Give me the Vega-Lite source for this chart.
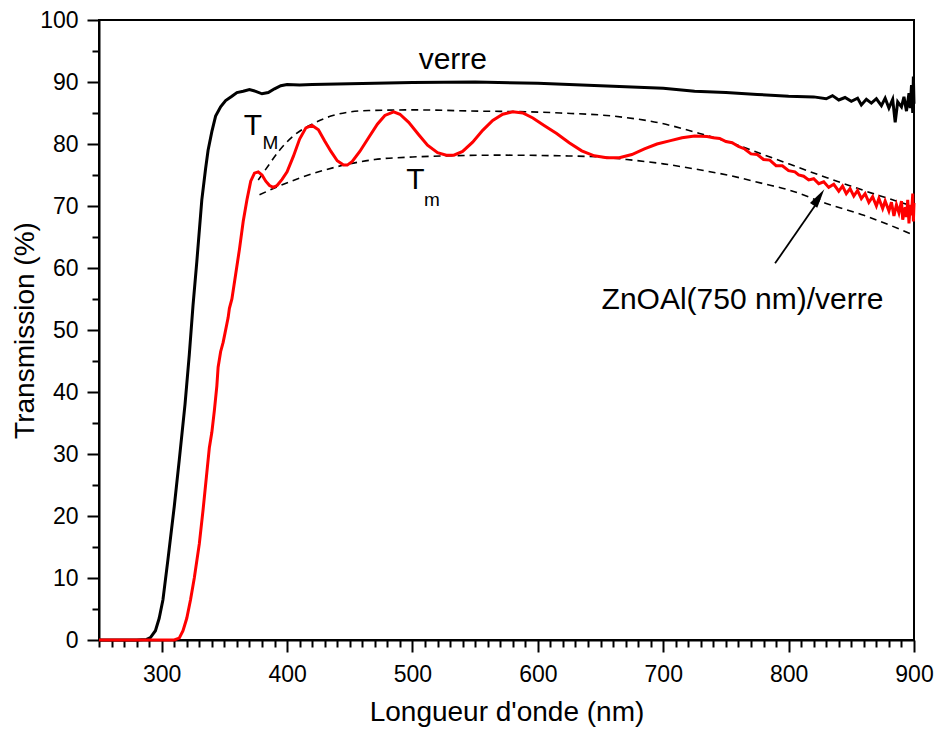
{
  "$schema": "https://vega.github.io/schema/vega-lite/v6.json",
  "width": 815,
  "height": 620,
  "autosize": {"type": "none"},
  "padding": {"left": 99, "top": 20, "right": 24, "bottom": 95},
  "background": "white",
  "config": {
    "view": {"stroke": "black", "strokeWidth": 2},
    "font": "Liberation Sans",
    "axis": {"grid": false, "domainColor": "black", "domainWidth": 2, "tickColor": "black", "tickWidth": 2, "labelColor": "black", "titleColor": "black", "labelFont": "Liberation Sans", "titleFont": "Liberation Sans", "labelFontSize": 23, "titleFontSize": 28, "titleFontWeight": "normal"}
  },
  "resolve": {"axis": {"x": "independent", "y": "independent"}},
  "datasets": {
    "spectra": [
      {"wl": 250, "T": 0, "s": "verre"}, {"wl": 280, "T": 0, "s": "verre"}, {"wl": 288, "T": 0.1, "s": "verre"}, {"wl": 291, "T": 0.4, "s": "verre"}, {"wl": 295, "T": 1.5, "s": "verre"}, {"wl": 298, "T": 3.5, "s": "verre"}, {"wl": 301, "T": 6.5, "s": "verre"}, {"wl": 305, "T": 13, "s": "verre"}, {"wl": 310, "T": 21.5, "s": "verre"}, {"wl": 314, "T": 29, "s": "verre"}, {"wl": 318.6, "T": 38, "s": "verre"}, {"wl": 322, "T": 46, "s": "verre"}, {"wl": 325, "T": 54, "s": "verre"}, {"wl": 328, "T": 61, "s": "verre"}, {"wl": 332, "T": 71, "s": "verre"}, {"wl": 335, "T": 76, "s": "verre"}, {"wl": 337, "T": 79, "s": "verre"}, {"wl": 340, "T": 82, "s": "verre"}, {"wl": 343, "T": 84.5, "s": "verre"}, {"wl": 347, "T": 86, "s": "verre"}, {"wl": 351, "T": 87, "s": "verre"}, {"wl": 356, "T": 87.7, "s": "verre"}, {"wl": 360, "T": 88.3, "s": "verre"}, {"wl": 365, "T": 88.5, "s": "verre"}, {"wl": 370, "T": 88.8, "s": "verre"}, {"wl": 375, "T": 88.5, "s": "verre"}, {"wl": 380, "T": 88.1, "s": "verre"}, {"wl": 385, "T": 88.3, "s": "verre"}, {"wl": 390, "T": 88.9, "s": "verre"}, {"wl": 395, "T": 89.4, "s": "verre"}, {"wl": 400, "T": 89.6, "s": "verre"}, {"wl": 410, "T": 89.5, "s": "verre"}, {"wl": 420, "T": 89.6, "s": "verre"}, {"wl": 450, "T": 89.7, "s": "verre"}, {"wl": 500, "T": 89.9, "s": "verre"}, {"wl": 550, "T": 90, "s": "verre"}, {"wl": 600, "T": 89.8, "s": "verre"}, {"wl": 650, "T": 89.4, "s": "verre"}, {"wl": 700, "T": 89, "s": "verre"}, {"wl": 725, "T": 88.5, "s": "verre"}, {"wl": 750, "T": 88.3, "s": "verre"}, {"wl": 775, "T": 88, "s": "verre"}, {"wl": 800, "T": 87.7, "s": "verre"}, {"wl": 820, "T": 87.6, "s": "verre"}, {"wl": 830, "T": 87.3, "s": "verre"}, {"wl": 835, "T": 87.8, "s": "verre"}, {"wl": 840, "T": 87.1, "s": "verre"}, {"wl": 845, "T": 87.5, "s": "verre"}, {"wl": 850, "T": 86.9, "s": "verre"}, {"wl": 855, "T": 87.4, "s": "verre"}, {"wl": 858, "T": 86.3, "s": "verre"}, {"wl": 862, "T": 87.2, "s": "verre"}, {"wl": 866, "T": 86.6, "s": "verre"}, {"wl": 870, "T": 87.3, "s": "verre"}, {"wl": 874, "T": 86.2, "s": "verre"}, {"wl": 877, "T": 87.4, "s": "verre"}, {"wl": 880, "T": 85.8, "s": "verre"}, {"wl": 883, "T": 87.2, "s": "verre"}, {"wl": 885, "T": 83.5, "s": "verre"}, {"wl": 887, "T": 86.8, "s": "verre"}, {"wl": 890, "T": 86, "s": "verre"}, {"wl": 892, "T": 87.6, "s": "verre"}, {"wl": 894, "T": 85.3, "s": "verre"}, {"wl": 896, "T": 88.2, "s": "verre"}, {"wl": 897, "T": 85.8, "s": "verre"}, {"wl": 898, "T": 89.5, "s": "verre"}, {"wl": 899, "T": 85, "s": "verre"}, {"wl": 899.5, "T": 90.9, "s": "verre"}, {"wl": 900, "T": 86.5, "s": "verre"},
      {"wl": 250, "T": 0, "s": "film"}, {"wl": 310, "T": 0, "s": "film"}, {"wl": 314, "T": 0.3, "s": "film"}, {"wl": 317, "T": 1.5, "s": "film"}, {"wl": 320, "T": 3.5, "s": "film"}, {"wl": 323, "T": 6.5, "s": "film"}, {"wl": 326, "T": 10, "s": "film"}, {"wl": 330, "T": 15.5, "s": "film"}, {"wl": 333, "T": 21, "s": "film"}, {"wl": 336, "T": 27, "s": "film"}, {"wl": 338, "T": 31, "s": "film"}, {"wl": 340, "T": 33.5, "s": "film"}, {"wl": 342, "T": 37, "s": "film"}, {"wl": 344, "T": 41, "s": "film"}, {"wl": 345, "T": 44, "s": "film"}, {"wl": 347, "T": 46.5, "s": "film"}, {"wl": 349, "T": 48, "s": "film"}, {"wl": 350.5, "T": 49.5, "s": "film"}, {"wl": 352, "T": 51, "s": "film"}, {"wl": 353, "T": 52, "s": "film"}, {"wl": 354, "T": 53.5, "s": "film"}, {"wl": 356, "T": 55, "s": "film"}, {"wl": 359, "T": 59, "s": "film"}, {"wl": 362, "T": 63, "s": "film"}, {"wl": 365, "T": 67.5, "s": "film"}, {"wl": 368, "T": 71, "s": "film"}, {"wl": 371, "T": 74, "s": "film"}, {"wl": 374, "T": 75.3, "s": "film"}, {"wl": 377, "T": 75.5, "s": "film"}, {"wl": 380, "T": 75, "s": "film"}, {"wl": 383, "T": 74, "s": "film"}, {"wl": 386, "T": 73.3, "s": "film"}, {"wl": 389, "T": 73, "s": "film"}, {"wl": 392, "T": 73.3, "s": "film"}, {"wl": 396, "T": 74.3, "s": "film"}, {"wl": 400, "T": 75.5, "s": "film"}, {"wl": 405, "T": 78, "s": "film"}, {"wl": 410, "T": 80.8, "s": "film"}, {"wl": 415, "T": 82.6, "s": "film"}, {"wl": 420, "T": 83, "s": "film"}, {"wl": 425, "T": 82.3, "s": "film"}, {"wl": 430, "T": 80.5, "s": "film"}, {"wl": 435, "T": 78.8, "s": "film"}, {"wl": 440, "T": 77.3, "s": "film"}, {"wl": 445, "T": 76.6, "s": "film"}, {"wl": 448, "T": 76.6, "s": "film"}, {"wl": 452, "T": 77.2, "s": "film"}, {"wl": 458, "T": 78.8, "s": "film"}, {"wl": 465, "T": 81, "s": "film"}, {"wl": 472, "T": 83.2, "s": "film"}, {"wl": 478, "T": 84.6, "s": "film"}, {"wl": 485, "T": 85.2, "s": "film"}, {"wl": 490, "T": 84.8, "s": "film"}, {"wl": 497, "T": 83.5, "s": "film"}, {"wl": 505, "T": 81.5, "s": "film"}, {"wl": 512, "T": 79.8, "s": "film"}, {"wl": 520, "T": 78.6, "s": "film"}, {"wl": 527, "T": 78.2, "s": "film"}, {"wl": 533, "T": 78.2, "s": "film"}, {"wl": 540, "T": 78.8, "s": "film"}, {"wl": 548, "T": 80.3, "s": "film"}, {"wl": 556, "T": 82.2, "s": "film"}, {"wl": 564, "T": 83.8, "s": "film"}, {"wl": 572, "T": 84.8, "s": "film"}, {"wl": 580, "T": 85.2, "s": "film"}, {"wl": 588, "T": 85, "s": "film"}, {"wl": 596, "T": 84.2, "s": "film"}, {"wl": 605, "T": 83, "s": "film"}, {"wl": 615, "T": 81.7, "s": "film"}, {"wl": 625, "T": 80.2, "s": "film"}, {"wl": 635, "T": 78.9, "s": "film"}, {"wl": 645, "T": 78.1, "s": "film"}, {"wl": 655, "T": 77.8, "s": "film"}, {"wl": 665, "T": 77.8, "s": "film"}, {"wl": 675, "T": 78.3, "s": "film"}, {"wl": 685, "T": 79.2, "s": "film"}, {"wl": 695, "T": 80, "s": "film"}, {"wl": 705, "T": 80.5, "s": "film"}, {"wl": 715, "T": 81, "s": "film"}, {"wl": 725, "T": 81.3, "s": "film"}, {"wl": 735, "T": 81.2, "s": "film"}, {"wl": 740, "T": 81.0, "s": "film"}, {"wl": 745, "T": 80.9, "s": "film"}, {"wl": 750, "T": 80.4, "s": "film"}, {"wl": 755, "T": 80.2, "s": "film"}, {"wl": 760, "T": 79.6, "s": "film"}, {"wl": 765, "T": 79.2, "s": "film"}, {"wl": 770, "T": 78.4, "s": "film"}, {"wl": 775, "T": 78.3, "s": "film"}, {"wl": 780, "T": 77.5, "s": "film"}, {"wl": 785, "T": 77.4, "s": "film"}, {"wl": 790, "T": 76.5, "s": "film"}, {"wl": 795, "T": 76.5, "s": "film"}, {"wl": 800, "T": 75.7, "s": "film"}, {"wl": 805, "T": 75.5, "s": "film"}, {"wl": 808, "T": 75.0, "s": "film"}, {"wl": 812, "T": 74.8, "s": "film"}, {"wl": 816, "T": 74.2, "s": "film"}, {"wl": 820, "T": 74.4, "s": "film"}, {"wl": 824, "T": 73.6, "s": "film"}, {"wl": 828, "T": 73.9, "s": "film"}, {"wl": 832, "T": 73.0, "s": "film"}, {"wl": 836, "T": 73.5, "s": "film"}, {"wl": 840, "T": 72.4, "s": "film"}, {"wl": 843, "T": 73.2, "s": "film"}, {"wl": 846, "T": 72.0, "s": "film"}, {"wl": 849, "T": 72.8, "s": "film"}, {"wl": 852, "T": 71.6, "s": "film"}, {"wl": 855, "T": 72.5, "s": "film"}, {"wl": 858, "T": 71.2, "s": "film"}, {"wl": 861, "T": 72.0, "s": "film"}, {"wl": 864, "T": 70.6, "s": "film"}, {"wl": 867, "T": 71.5, "s": "film"}, {"wl": 870, "T": 70.0, "s": "film"}, {"wl": 872, "T": 71.2, "s": "film"}, {"wl": 875, "T": 69.6, "s": "film"}, {"wl": 877, "T": 70.8, "s": "film"}, {"wl": 880, "T": 69.2, "s": "film"}, {"wl": 882, "T": 70.6, "s": "film"}, {"wl": 884, "T": 68.4, "s": "film"}, {"wl": 886, "T": 70.2, "s": "film"}, {"wl": 888, "T": 68.9, "s": "film"}, {"wl": 890, "T": 70.8, "s": "film"}, {"wl": 891, "T": 67.8, "s": "film"}, {"wl": 893, "T": 69.8, "s": "film"}, {"wl": 894, "T": 68.2, "s": "film"}, {"wl": 895, "T": 71.0, "s": "film"}, {"wl": 896, "T": 67.2, "s": "film"}, {"wl": 897, "T": 70.2, "s": "film"}, {"wl": 898, "T": 68.5, "s": "film"}, {"wl": 899, "T": 72.0, "s": "film"}, {"wl": 899.5, "T": 67.5, "s": "film"}, {"wl": 900, "T": 70.5, "s": "film"}
    ],
    "envelopes": [
      {"wl": 377, "T": 74.2, "env": "TM"}, {"wl": 385, "T": 76.5, "env": "TM"}, {"wl": 394, "T": 79, "env": "TM"}, {"wl": 405, "T": 81.3, "env": "TM"}, {"wl": 421, "T": 83.3, "env": "TM"}, {"wl": 435, "T": 84.5, "env": "TM"}, {"wl": 447.5, "T": 85.1, "env": "TM"}, {"wl": 465, "T": 85.4, "env": "TM"}, {"wl": 500, "T": 85.5, "env": "TM"}, {"wl": 554, "T": 85.3, "env": "TM"}, {"wl": 590, "T": 85.2, "env": "TM"}, {"wl": 618, "T": 85, "env": "TM"}, {"wl": 660, "T": 84.5, "env": "TM"}, {"wl": 697, "T": 83.4, "env": "TM"}, {"wl": 729, "T": 81.7, "env": "TM"}, {"wl": 760, "T": 79.8, "env": "TM"}, {"wl": 777, "T": 78.5, "env": "TM"}, {"wl": 800, "T": 76.8, "env": "TM"}, {"wl": 830, "T": 74.6, "env": "TM"}, {"wl": 860, "T": 72.5, "env": "TM"}, {"wl": 900, "T": 69.9, "env": "TM"},
      {"wl": 378, "T": 71.8, "env": "Tm"}, {"wl": 390, "T": 72.9, "env": "Tm"}, {"wl": 410, "T": 74.5, "env": "Tm"}, {"wl": 430, "T": 75.8, "env": "Tm"}, {"wl": 447.5, "T": 76.7, "env": "Tm"}, {"wl": 470, "T": 77.5, "env": "Tm"}, {"wl": 500, "T": 77.9, "env": "Tm"}, {"wl": 531, "T": 78.1, "env": "Tm"}, {"wl": 570, "T": 78.2, "env": "Tm"}, {"wl": 617, "T": 78.1, "env": "Tm"}, {"wl": 650, "T": 77.9, "env": "Tm"}, {"wl": 671, "T": 77.5, "env": "Tm"}, {"wl": 700, "T": 76.8, "env": "Tm"}, {"wl": 730, "T": 75.8, "env": "Tm"}, {"wl": 751, "T": 75, "env": "Tm"}, {"wl": 780, "T": 73.6, "env": "Tm"}, {"wl": 800, "T": 72.6, "env": "Tm"}, {"wl": 830, "T": 70.4, "env": "Tm"}, {"wl": 860, "T": 68.5, "env": "Tm"}, {"wl": 900, "T": 65.3, "env": "Tm"}
    ],
    "labels": [
      {"wl": 532.2, "T": 93.5, "text": "verre"},
      {"wl": 763.2, "T": 54.8, "text": "ZnOAl(750 nm)/verre"},
      {"wl": 372.8, "T": 82.9, "text": "T"},
      {"wl": 502.4, "T": 74.2, "text": "T"}
    ],
    "subs": [
      {"wl": 386.8, "T": 80.1, "text": "M"},
      {"wl": 515.6, "T": 71.0, "text": "m"}
    ],
    "arrow": [
      {"wl": 789.2, "T": 60.75, "wl2": 825.0, "T2": 71.2}
    ],
    "head": [
      {"wl": 824.2, "T": 71.4}
    ]
  },
  "layer": [
    {
      "data": {"name": "envelopes"},
      "mark": {"type": "line", "color": "black", "strokeWidth": 1.6, "strokeDash": [7, 5], "interpolate": "monotone"},
      "encoding": {
        "x": {"field": "wl", "type": "quantitative", "scale": {"domain": [250, 900], "nice": false, "zero": false},
          "axis": {"orient": "bottom", "title": "Longueur d'onde (nm)", "values": [300, 400, 500, 600, 700, 800, 900],
            "tickSize": 12, "labelPadding": 11, "titlePadding": 12, "labelFlush": false, "labelOverlap": false}},
        "y": {"field": "T", "type": "quantitative", "scale": {"domain": [0, 100], "nice": false},
          "axis": {"orient": "left", "title": "Transmission (%)", "values": [0, 10, 20, 30, 40, 50, 60, 70, 80, 90, 100],
            "tickSize": 12, "labelPadding": 9, "titlePadding": 0, "labelFlush": false, "labelOverlap": false}},
        "detail": {"field": "env"}
      }
    },
    {
      "data": {"name": "spectra"},
      "mark": {"type": "line", "strokeWidth": 3},
      "encoding": {
        "x": {"field": "wl", "type": "quantitative",
          "axis": {"orient": "bottom", "title": null, "labels": false, "domain": false, "tickSize": 7,
            "values": [250,260,270,280,290,310,320,330,340,350,360,370,380,390,410,420,430,440,450,460,470,480,490,510,520,530,540,550,560,570,580,590,610,620,630,640,650,660,670,680,690,710,720,730,740,750,760,770,780,790,810,820,830,840,850,860,870,880,890]}},
        "y": {"field": "T", "type": "quantitative",
          "axis": {"orient": "left", "title": null, "labels": false, "domain": false, "tickSize": 7,
            "values": [5, 15, 25, 35, 45, 55, 65, 75, 85, 95]}},
        "color": {"field": "s", "type": "nominal", "scale": {"domain": ["verre", "film"], "range": ["#000000", "#ff0000"]}, "legend": null}
      }
    },
    {
      "data": {"name": "labels"},
      "mark": {"type": "text", "fontSize": 30, "font": "Liberation Sans", "color": "black", "align": "center", "baseline": "middle"},
      "encoding": {
        "x": {"field": "wl", "type": "quantitative", "axis": null},
        "y": {"field": "T", "type": "quantitative", "axis": null},
        "text": {"field": "text"}
      }
    },
    {
      "data": {"name": "subs"},
      "mark": {"type": "text", "fontSize": 19, "font": "Liberation Sans", "color": "black", "align": "center", "baseline": "middle"},
      "encoding": {
        "x": {"field": "wl", "type": "quantitative", "axis": null},
        "y": {"field": "T", "type": "quantitative", "axis": null},
        "text": {"field": "text"}
      }
    },
    {
      "data": {"name": "arrow"},
      "mark": {"type": "rule", "color": "black", "strokeWidth": 1.8},
      "encoding": {
        "x": {"field": "wl", "type": "quantitative", "axis": null},
        "y": {"field": "T", "type": "quantitative", "axis": null},
        "x2": {"field": "wl2"},
        "y2": {"field": "T2"}
      }
    },
    {
      "data": {"name": "head"},
      "mark": {"type": "point", "shape": "M0,-1L0.45,1L-0.45,1Z", "filled": true, "color": "black", "opacity": 1, "size": 380, "angle": 33.4},
      "encoding": {
        "x": {"field": "wl", "type": "quantitative", "axis": null},
        "y": {"field": "T", "type": "quantitative", "axis": null}
      }
    }
  ]
}
